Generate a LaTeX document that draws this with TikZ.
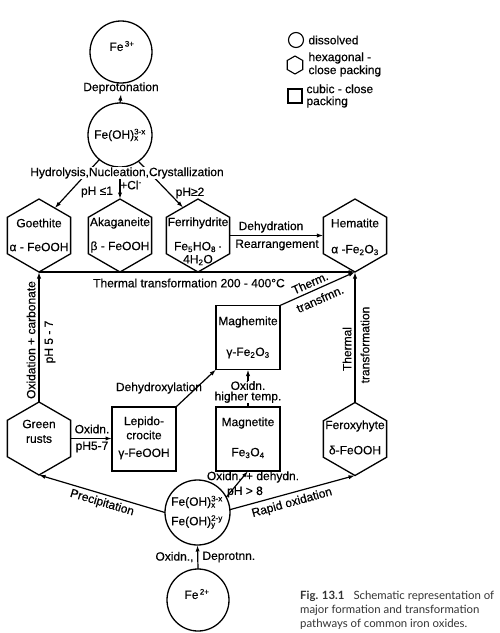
\documentclass[tikz,border=0pt]{standalone}
\usepackage{fontspec}
\setmainfont[FakeBold=0.4]{Liberation Sans}
\newfontfamily\capfont{Lato}
\usetikzlibrary{shapes.geometric,arrows.meta,calc}
\newcommand\subsupx[2]{\rlap{\textsubscript{#1}}\textsuperscript{#2}}
\begin{document}
\begin{tikzpicture}[x=1pt,y=-1pt,
  shp/.style={draw,line width=1.3pt,inner sep=0pt,outer sep=0pt},
  hexa/.style={shp,regular polygon,regular polygon sides=6,shape border rotate=30,minimum size=73pt},
  circ/.style={shp,circle},
  boxx/.style={shp,rectangle,minimum width=64pt,minimum height=64pt},
  arr/.style={line width=1.2pt,-{Latex[length=6.5pt,width=4.2pt]}},
  txt/.style={inner sep=0.3pt,font=\fontsize{12}{13.5}\selectfont},
  captxt/.style={inner sep=0pt,anchor=base west,text=black!80,font=\capfont\fontsize{11.4}{14}\selectfont}
]
\useasboundingbox (0,0) rectangle (499,633);
% shapes
\node[circ,minimum size=62pt] (fe3) at (121,52) {};
\node[circ,minimum size=64pt] (fx1) at (120,135) {};
\node[hexa] (goe) at (39,235.5) {};
\node[hexa] (aka) at (120,235.5) {};
\node[hexa] (fer) at (198,235.5) {};
\node[hexa] (hem) at (355,235.5) {};
\node[hexa] (gr) at (39,438.5) {};
\node[hexa] (ferox) at (355,439) {};
\node[boxx] (lep) at (144,439) {};
\node[boxx] (mgh) at (248,337.5) {};
\node[boxx] (mgt) at (248,439) {};
\node[circ,minimum size=65pt] (fx2) at (197.5,512.5) {};
\node[circ,minimum size=62pt] (fe2) at (198,600) {};
% legend shapes
\node[circ,line width=1.1pt,minimum size=15pt] (lc) at (296,40) {};
\node[shp,line width=1.1pt,regular polygon,regular polygon sides=6,shape border rotate=30,minimum size=18pt] (lh) at (295,65) {};
\node[shp,line width=1.1pt,minimum size=14pt] (ls) at (295,96) {};
% text needed for connectors
\node[txt] (deprot) at (121,88) {Deprotonation};
% connectors
\draw[arr] (fx1.north) -- (deprot.south);
\draw[arr] (fx1.230) -- (goe.60);
\draw[arr] (fx1.south) -- (aka.north);
\draw[arr] (fx1.305) -- (fer.118);
\draw[arr] (fer.east) -- (hem.west);
\draw[arr] (goe.south) -- (hem.south);
\draw[arr] (gr.north) -- (goe.south);
\draw[arr] (gr.east) -- (gr.east -| lep.west);
\draw[arr] (lep.north east) -- (mgh.south west);
\draw[arr] (mgt.north) -- (mgh.south);
\draw[arr] (mgh.north east) -- (hem.south);
\draw[arr] (ferox.north) -- (hem.south);
\draw[arr] (fx2.west) -- (gr.south);
\draw[arr] (fx2.5) -- (ferox.south);
\draw[arr] (fx2.28) -- (mgt.south);
\draw[arr] (fe2.north) -- (fx2.south);
% texts
\node[txt] (t-fe3) at (122,46) {Fe\textsuperscript{\,3+}};
\node[txt] (t-fx1) at (120,135) {Fe(OH)\subsupx{x}{3-x}};
\node[txt,fill=white,inner sep=0.5pt] (hyd) at (127,173) {Hydrolysis,Nucleation,Crystallization};
\node[txt] (ph1) at (97,192) {pH ≤1};
\node[txt,anchor=west,inner sep=0pt] (cl) at (120,185) {+Cl\textsuperscript{-}};
\node[txt] (ph2) at (190,193) {pH≥2};
\node[txt] (t-goe1) at (39,223) {Goethite};
\node[txt] (t-goe2) at (39,247) {α - FeOOH};
\node[txt] (t-aka1) at (120,223) {Akaganeite};
\node[txt] (t-aka2) at (120,247) {β - FeOOH};
\node[txt] (t-fer1) at (198,223) {Ferrihydrite};
\node[txt] (t-fer2) at (198,247) {Fe\textsubscript{5}HO\textsubscript{8}\,·};
\node[txt] (t-fer3) at (198,260) {4H\textsubscript{2}O};
\node[txt] (t-hem1) at (355,223) {Hematite};
\node[txt] (t-hem2) at (355,250) {α -Fe\textsubscript{2}O\textsubscript{3}};
\node[txt] (t-deh) at (271,227) {Dehydration};
\node[txt] (t-rea) at (277,245) {Rearrangement};
\node[txt] (t-th) at (189,283) {Thermal transformation 200 - 400°C};
\node[txt,rotate=90] (t-oxc) at (31,340) {Oxidation + carbonate};
\node[txt,rotate=90] (t-ph57) at (50,342) {pH 5 - 7};
\node[txt] (t-gr1) at (39,424) {Green};
\node[txt] (t-gr2) at (39,439) {rusts};
\node[txt] (t-ox1) at (92,429) {Oxidn.};
\node[txt] (t-ox2) at (92,447) {pH5-7};
\node[txt] (t-lep1) at (144,422) {Lepido-};
\node[txt] (t-lep2) at (144,435) {crocite};
\node[txt] (t-lep3) at (144,454) {γ-FeOOH};
\node[txt] (t-dhx) at (159,388) {Dehydroxylation};
\node[txt] (t-mgh1) at (248,322) {Maghemite};
\node[txt] (t-mgh2) at (248,353) {γ-Fe\textsubscript{2}O\textsubscript{3}};
\node[txt,fill=white,inner sep=0.5pt,align=center,font=\fontsize{12}{10.5}\selectfont] (t-oht) at (248,392) {Oxidn.\\higher temp.};
\node[txt] (t-mgt1) at (248,423) {Magnetite};
\node[txt] (t-mgt2) at (248,453) {Fe\textsubscript{3}O\textsubscript{4}};
\node[txt,rotate=24,inner sep=0pt] (t-tt1) at (310,283) {Therm.};
\node[txt,rotate=24,inner sep=0pt] (t-tt2) at (320,299) {transfmn.};
\node[txt,rotate=90] (t-th1) at (347,349) {Thermal};
\node[txt,rotate=90] (t-th2) at (365,345) {transformation};
\node[txt] (t-fox1) at (355,426) {Feroxyhyte};
\node[txt] (t-fox2) at (355,450) {δ-FeOOH};
\node[txt] (t-fx2a) at (197,502) {Fe(OH)\subsupx{x}{3-x}};
\node[txt] (t-fx2b) at (197,522) {Fe(OH)\subsupx{y}{2-y}};
\node[txt,rotate=-16.7] (t-pre) at (102,503) {Precipitation};
\node[txt,rotate=15.6] (t-rap) at (292,503) {Rapid oxidation};
\node[txt] (t-odh) at (253,477) {Oxidn. + dehydn.};
\node[txt] (t-ph8) at (245,492) {pH > 8};
\node[txt,anchor=east] (t-oxd) at (194,557) {Oxidn.,};
\node[txt,anchor=west] (t-dpr) at (202,557) {Deprotnn.};
\node[txt] (t-fe2) at (197,594) {Fe\textsuperscript{\,2+}};
% legend text
\node[txt,anchor=west] (l1) at (308,40) {dissolved};
\node[txt,anchor=west,align=left,font=\fontsize{12}{13}\selectfont] (l2) at (308,64.5) {hexagonal -\\close packing};
\node[txt,anchor=west,align=left,font=\fontsize{12}{12}\selectfont] (l3) at (306,96) {cubic - close\\packing};
% caption
\node[captxt] (c1) at (300,599) {\textbf{Fig. 13.1}\hspace{9pt}Schematic representation of};
\node[captxt] (c2) at (300,613) {major formation and transformation};
\node[captxt] (c3) at (300,627) {pathways of common iron oxides.};
\end{tikzpicture}
\end{document}
